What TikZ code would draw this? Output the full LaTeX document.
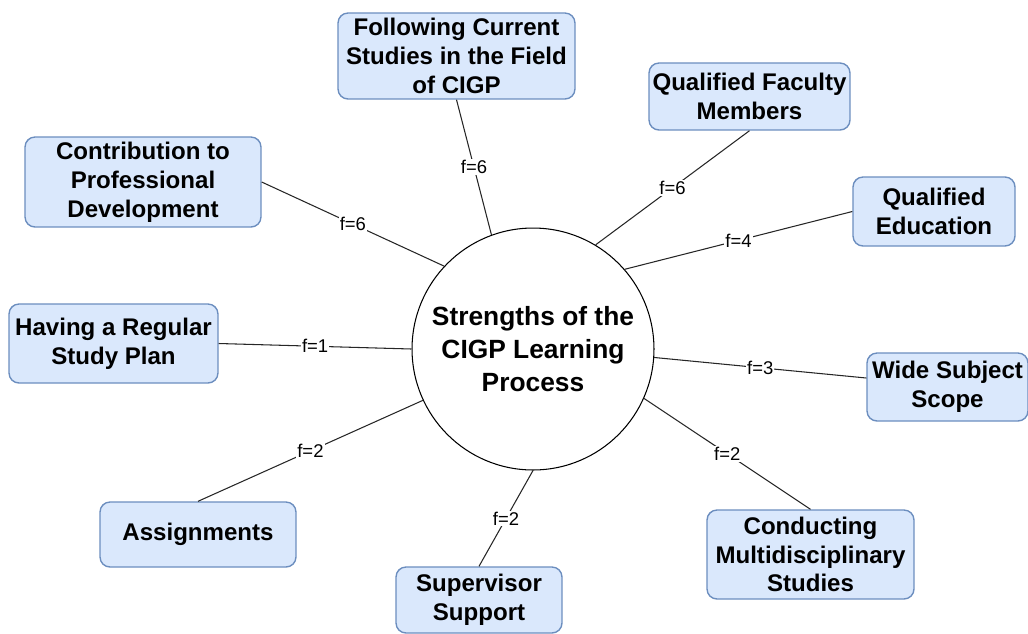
\documentclass[tikz,border=0pt]{standalone}
\usepackage{fontspec}
\setmainfont{Liberation Sans}
\definecolor{boxfill}{RGB}{218, 232, 252}
\definecolor{boxline}{RGB}{108, 142, 191}
\tikzset{
	strength/.style={draw=boxline, fill=boxfill, line width=0.8pt, rounded corners=0.2cm, align=center, inner sep=0pt, font=\fontsize{13.7}{16.4}\selectfont\bfseries},
	hub/.style={draw, circle, line width=0.6pt, minimum size=4.84cm, align=center, inner sep=0pt, font=\fontsize{15}{18.8}\selectfont\bfseries},
	freq/.style={midway, fill=white, inner sep=0.6pt, font=\fontsize{10.5}{12}\selectfont},
	link/.style={line width=0.6pt, draw=black!85}
}

\begin{document}
\begin{tikzpicture}[x=0.02cm, y=-0.02cm]
			\useasboundingbox (0, 0) rectangle (1028, 633);
			\node [hub] (hub) at (533, 349) {Strengths of the\\CIGP Learning\\Process};
			\node [strength, minimum width=4.74cm, minimum height=1.72cm] (following) at (456.5, 56) {Following Current\\Studies in the Field\\of CIGP};
			\node [strength, minimum width=4.02cm, minimum height=1.34cm] (faculty) at (749.5, 96.5) {Qualified Faculty\\Members};
			\node [strength, minimum width=4.72cm, minimum height=1.8cm] (contribution) at (143, 182) {Contribution to\\Professional\\Development};
			\node [strength, minimum width=3.24cm, minimum height=1.38cm] (education) at (934, 211.5) {Qualified\\Education};
			\node [strength, minimum width=4.18cm, minimum height=1.58cm] (plan) at (113.5, 343.5) {Having a Regular\\Study Plan};
			\node [strength, minimum width=3.22cm, minimum height=1.36cm] (scope) at (947.5, 387) {Wide Subject\\Scope};
			\node [strength, minimum width=3.92cm, minimum height=1.3cm] (assignments) at (198, 534.5) {Assignments};
			\node [strength, minimum width=4.14cm, minimum height=1.78cm] (multi) at (810.5, 554.5) {Conducting\\Multidisciplinary\\Studies};
			\node [strength, minimum width=3.32cm, minimum height=1.32cm] (supervisor) at (479, 600) {Supervisor\\Support};
			\draw [link] (following.south) -- (hub.110) node[freq]{f=6};
			\draw [link] (faculty.south) -- (hub.59) node[freq]{f=6};
			\draw [link] (contribution.east) -- (hub.137) node[freq]{f=6};
			\draw [link] (education.west) -- (hub.41) node[freq]{f=4};
			\draw [link] (plan.east) -- (hub.180) node[freq]{f=1};
			\draw [link] ([yshift=0.18cm]scope.west) -- (hub.-4) node[freq]{f=3};
			\draw [link] (assignments.north) -- (hub.205) node[freq]{f=2};
			\draw [link] (multi.north) -- (hub.-24) node[freq]{f=2};
			\draw [link] (supervisor.north) -- (hub.270) node[freq]{f=2};
		\end{tikzpicture}
\end{document}
